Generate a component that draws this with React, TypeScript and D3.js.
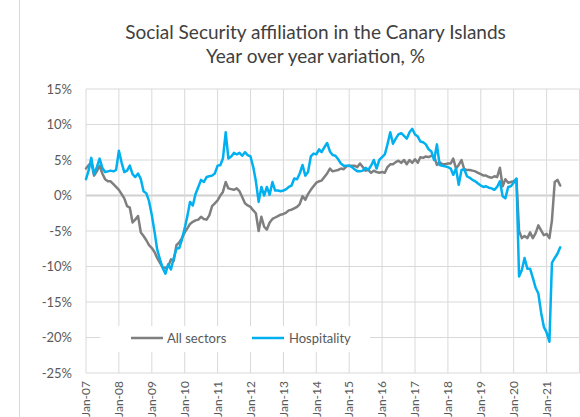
import React from 'react';
import * as d3 from 'd3';

// Monthly year-over-year variation (%), Jan-2007 .. Jun-2021
const allSectors: number[] = [
  3.8, 4.3, 4.6, 2.8, 3.4, 4.2, 3.1, 2.3, 2.0, 2.0, 1.6, 1.2, // 2007
  0.8, 0.2, -0.4, -1.5, -1.7, -3.8, -3.4, -2.9, -5.2, -5.7, -6.3, -7.0, // 2008
  -7.4, -8.0, -8.8, -9.5, -10.1, -10.2, -10.0, -9.0, -9.2, -7.0, -6.6, -6.0, // 2009
  -5.2, -4.6, -4.0, -3.7, -3.5, -3.4, -3.0, -3.3, -3.4, -2.8, -1.5, -1.1, // 2010
  -0.7, 0.0, 0.5, 1.9, 1.0, 0.9, 0.8, 1.0, 0.6, -0.2, -1.1, -1.4, // 2011
  -1.6, -2.1, -2.5, -5.0, -3.0, -4.4, -4.8, -3.8, -3.3, -3.1, -2.9, -2.7, // 2012
  -2.6, -2.4, -2.1, -2.0, -1.8, -1.6, -1.2, -0.1, -0.6, 0.2, 0.8, 1.3, // 2013
  1.8, 2.0, 2.1, 2.6, 3.1, 3.8, 3.4, 3.5, 3.6, 3.8, 3.7, 4.1, // 2014
  4.2, 4.2, 4.2, 4.0, 4.5, 4.0, 3.5, 3.6, 3.2, 3.5, 3.3, 3.2, // 2015
  3.3, 3.2, 4.0, 4.4, 4.4, 4.7, 4.9, 4.6, 5.0, 4.4, 5.0, 4.6, // 2016
  5.1, 4.6, 5.4, 5.3, 5.5, 5.4, 5.6, 5.5, 4.3, 4.7, 4.4, 4.4, // 2017
  4.5, 4.5, 5.2, 3.8, 4.3, 5.0, 3.7, 3.6, 3.6, 3.5, 3.4, 3.2, // 2018
  3.0, 2.8, 2.8, 2.6, 2.5, 2.7, 2.6, 3.9, 1.3, 2.3, 1.8, 1.9, // 2019
  2.0, 2.3, -5.0, -6.0, -5.7, -6.0, -5.2, -6.0, -5.3, -4.2, -4.9, -5.6, // 2020
  -5.4, -6.0, -3.5, 1.9, 2.2, 1.4, // 2021
];

const hospitality: number[] = [
  2.3, 3.6, 5.3, 3.0, 4.0, 5.2, 3.9, 3.3, 3.4, 3.5, 3.4, 3.6, // 2007
  6.3, 4.6, 3.3, 3.5, 4.2, 3.0, 2.6, 3.1, 2.3, 0.6, 0.3, -0.8, // 2008
  -2.8, -5.2, -7.6, -9.0, -10.2, -11.0, -9.7, -10.4, -8.8, -7.5, -7.4, -6.2, // 2009
  -4.6, -2.8, -0.9, -1.4, 0.2, 1.2, 2.2, 1.9, 2.6, 2.7, 2.8, 3.1, // 2010
  4.2, 4.3, 5.2, 8.9, 5.2, 5.5, 6.0, 5.8, 6.0, 5.6, 6.1, 5.7, // 2011
  5.5, 4.0, 2.0, -0.9, 1.2, 0.0, 1.2, 0.1, 1.9, 0.7, 0.7, 0.6, // 2012
  0.7, 0.9, 1.2, 1.4, 2.4, 2.3, 3.1, 4.3, 2.8, 3.3, 5.5, 5.9, // 2013
  5.8, 6.5, 6.1, 6.8, 7.4, 6.2, 5.7, 5.6, 5.1, 4.5, 4.2, 4.2, // 2014
  4.2, 4.0, 3.7, 3.4, 3.4, 3.5, 3.9, 3.6, 4.2, 5.0, 3.8, 5.0, // 2015
  5.4, 5.8, 7.2, 8.9, 7.3, 8.0, 8.6, 8.8, 8.4, 8.0, 8.9, 9.4, // 2016
  8.6, 8.3, 7.6, 7.5, 7.2, 6.5, 6.2, 5.0, 7.2, 4.3, 4.2, 4.1, // 2017
  4.0, 3.8, 2.9, 3.8, 1.5, 3.6, 3.7, 2.7, 2.5, 2.2, 2.0, 1.7, // 2018
  1.4, 1.2, 1.3, 1.1, 1.0, 0.8, 1.2, 2.0, -0.1, -0.4, 1.2, 1.3, // 2019
  1.8, 2.4, -11.4, -10.5, -8.8, -10.3, -10.3, -11.6, -13.0, -13.8, -16.5, -18.5, // 2020
  -19.3, -20.6, -9.5, -8.8, -8.2, -7.3, // 2021
];

const yTicks: number[] = [15, 10, 5, 0, -5, -10, -15, -20, -25];
const xTickYears: number[] = [2007, 2008, 2009, 2010, 2011, 2012, 2013, 2014, 2015, 2016, 2017, 2018, 2019, 2020, 2021, 2022];
const xTickLabels: string[] = ['Jan-07', 'Jan-08', 'Jan-09', 'Jan-10', 'Jan-11', 'Jan-12', 'Jan-13', 'Jan-14', 'Jan-15', 'Jan-16', 'Jan-17', 'Jan-18', 'Jan-19', 'Jan-20', 'Jan-21', ''];
const seriesNames: string[] = ['All sectors', 'Hospitality'];
const seriesColors: string[] = ['#7f7f7f', '#00b0f0'];
const titleLines: string[] = ['Social Security affiliation in the Canary Islands', 'Year over year variation, %'];

const FONT = 'Lato, "Open Sans", sans-serif';

export default function App() {
  const W = 580;
  const H = 417;
  const plotL = 86;
  const plotR = 579.5;
  const plotT = 89;
  const plotB = 373;

  const x = d3.scaleTime()
    .domain([new Date(2007, 0, 1), new Date(2022, 0, 1)])
    .range([plotL, plotR]);
  const y = d3.scaleLinear().domain([-25, 15]).range([plotB, plotT]);

  const dates = allSectors.map((_, i) => new Date(2007, i, 1));
  const line = d3.line<number>()
    .x((_, i) => x(dates[i]))
    .y((d) => y(d));

  const series = [allSectors, hospitality];

  const legendY = 338;
  const legendItems = [
    { x1: 131, x2: 163, tx: 167 },
    { x1: 252, x2: 284, tx: 289 },
  ];

  return (
    <svg width={W} height={H} style={{ position: 'absolute', left: 0, top: 0, background: '#fff' }} fontFamily={FONT}>
      <rect x={0} y={0} width={W} height={H} fill="#ffffff" />
      <line x1={19.5} x2={19.5} y1={0} y2={H} stroke="#d9d9d9" strokeWidth={1} />

      {titleLines.map((t, i) => (
        <text key={t} x={315.5} y={39 + i * 24} textAnchor="middle" fontSize={19} fill="#404040">{t}</text>
      ))}

      {/* horizontal gridlines */}
      {yTicks.map((v) => (
        <line key={'h' + v} x1={plotL} x2={plotR} y1={y(v)} y2={y(v)}
          stroke={v === 0 ? '#d0d0d0' : '#d9d9d9'} strokeWidth={v === 0 ? 2 : 1} />
      ))}
      {/* vertical gridlines */}
      {xTickYears.map((yr) => (
        <line key={'v' + yr} x1={x(new Date(yr, 0, 1))} x2={x(new Date(yr, 0, 1))} y1={plotT} y2={plotB}
          stroke="#d9d9d9" strokeWidth={1} />
      ))}

      {/* y tick labels */}
      {yTicks.map((v) => (
        <text key={'yl' + v} x={72} y={y(v)} dy="0.35em" textAnchor="end" fontSize={13} fill="#595959">{v + '%'}</text>
      ))}

      {/* x tick labels */}
      {xTickYears.map((yr, i) => {
        const xp = x(new Date(yr, 0, 1));
        return xTickLabels[i] ? (
          <text key={'xl' + yr} transform={`translate(${xp},${381}) rotate(-90)`} dy="0.35em" textAnchor="end" fontSize={12} fill="#595959">{xTickLabels[i]}</text>
        ) : null;
      })}

      {/* series lines */}
      {series.map((s, i) => (
        <path key={seriesNames[i]} d={line(s) || ''} fill="none" stroke={seriesColors[i]} strokeWidth={2.5} strokeLinejoin="round" strokeLinecap="round" />
      ))}

      {/* legend */}
      <rect x={100} y={326} width={270} height={26} fill="#ffffff" />
      {legendItems.map((it, i) => (
        <g key={'lg' + i}>
          <line x1={it.x1} x2={it.x2} y1={legendY} y2={legendY} stroke={seriesColors[i]} strokeWidth={2.5} />
          <text x={it.tx} y={legendY} dy="0.35em" fontSize={13} fill="#595959">{seriesNames[i]}</text>
        </g>
      ))}
    </svg>
  );
}
